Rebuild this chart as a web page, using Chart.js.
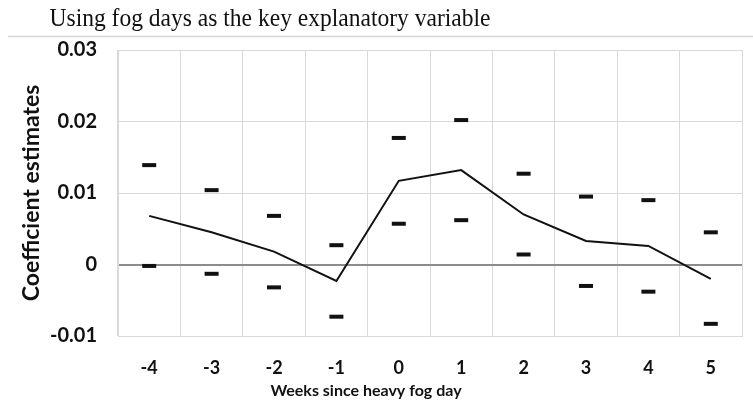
<!DOCTYPE html>
<html>
<head>
<meta charset="utf-8">
<script src="https://cdn.jsdelivr.net/npm/chart.js@4/dist/chart.umd.min.js"></script>
<style>
  html, body { margin: 0; padding: 0; background: #fff; }
  #wrap { width: 753px; height: 411px; position: relative; }
</style>
</head>
<body>
<div id="wrap"><canvas id="chart" width="753" height="411"></canvas></div>
<script>
// weeks relative to heavy fog day
const weeks = ["-4", "-3", "-2", "-1", "0", "1", "2", "3", "4", "5"];
// point estimates (the line)
const estimates = [0.0068, 0.0045, 0.0018, -0.0023, 0.0117, 0.0132, 0.0070, 0.0033, 0.0026, -0.0020];
// upper and lower bounds (the dashes)
const upper = [0.0139, 0.0104, 0.0068, 0.0027, 0.0177, 0.0202, 0.0127, 0.0095, 0.0090, 0.0045];
const lower = [-0.0002, -0.0013, -0.0032, -0.0073, 0.0057, 0.0062, 0.0014, -0.0030, -0.0038, -0.0083];
const yTicks = [-0.01, 0, 0.01, 0.02, 0.03];

const titleText = "Using fog days as the key explanatory variable";
const xTitleText = "Weeks since heavy fog day";

//draws the title, the rule under it and the x axis title
const extraText = {
  id: "extraText",
  afterDraw(chart) {
    const ctx = chart.ctx;
    ctx.save();
    // rule under title
    ctx.strokeStyle = "#d4d4d4";
    ctx.lineWidth = 1.5;
    ctx.beginPath();
    ctx.moveTo(8, 36.5);
    ctx.lineTo(753, 36.5);
    ctx.stroke();

    // title: serif, squeezed a little to the width it takes in the picture
    ctx.fillStyle = "#111";
    ctx.textAlign = "center";
    ctx.textBaseline = "alphabetic";
    ctx.font = '25px "Liberation Serif"';
    let w = ctx.measureText(titleText).width;
    ctx.save();
    ctx.translate(270, 26);
    ctx.scale(Math.min(1, 441 / w), 1);
    ctx.fillText(titleText, 0, 0);
    ctx.restore();

    // x axis title
    ctx.font = 'bold 16px Lato';
    ctx.textBaseline = "middle";
    ctx.fillText(xTitleText, 366, 391);
    ctx.restore();
  }
};

const dashPoint = {
  showLine: false,
  pointStyle: "line",
  pointRadius: 7,
  pointHoverRadius: 7,
  pointBorderWidth: 4,
  borderColor: "#111",
  backgroundColor: "#111",
};

let myChart = new Chart(document.getElementById("chart"), {
  type: "line",
  plugins: [extraText],
  data: {
    labels: weeks,
    datasets: [
      {
        label: "Estimate",
        data: estimates,
        borderColor: "#111",
        borderWidth: 2,
        pointRadius: 0,
        tension: 0,
      },
      Object.assign({ label: "Upper", data: upper }, dashPoint),
      Object.assign({ label: "Lower", data: lower }, dashPoint),
    ],
  },
  options: {
    responsive: false,
    animation: false,
    layout: { padding: { top: 50, left: 0, right: 0, bottom: 0 } },
    plugins: {
      legend: { display: false },
      tooltip: { enabled: false },
      title: { display: false },
    },
    scales: {
      x: {
        offset: true,
        grid: { offset: true, color: "#d9d9d9", drawTicks: false },
        border: { color: "#d9d9d9" },
        ticks: {
          color: "#111",
          font: { family: "Lato", size: 18, weight: "bold" },
          padding: 21,
          maxRotation: 0,
        },
        afterFit: (scale) => { scale.height = 75; },
      },
      y: {
        min: -0.01,
        max: 0.03,
        afterBuildTicks: (scale) => { scale.ticks = yTicks.map((v) => ({ value: v })); },
        grid: {
          drawTicks: false,
          color: (c) => (c.tick && Math.abs(c.tick.value) < 1e-9 ? "#8c8c8c" : "#d9d9d9"),
          lineWidth: (c) => (c.tick && Math.abs(c.tick.value) < 1e-9 ? 2 : 1),
        },
        border: { color: "#d9d9d9" },
        ticks: {
          color: "#111",
          font: { family: "Lato", size: 20, weight: "bold" },
          padding: 21,
          callback: (v) => (Math.abs(v) < 1e-9 ? "0" : Number(v).toFixed(2)),
        },
        title: {
          display: true,
          text: "Coefficient estimates",
          color: "#111",
          font: { family: "Lato", size: 23, weight: "bold" },
          padding: { top: 18, bottom: 0 },
        },
        afterFit: (scale) => { scale.width = 118; },
      },
    },
  },
});
</script>
</body>
</html>
